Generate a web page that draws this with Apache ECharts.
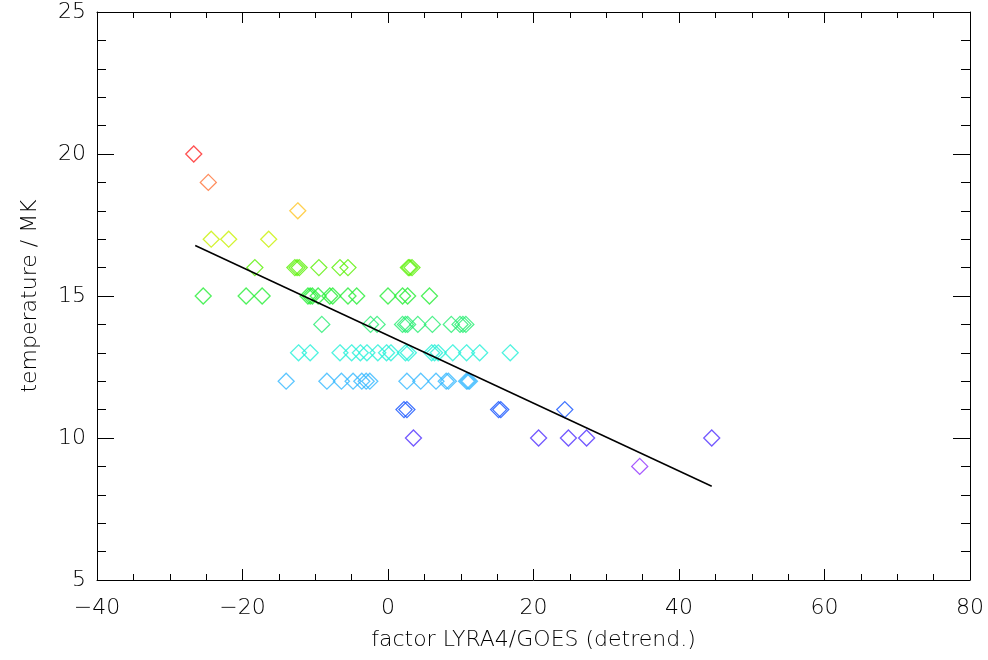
<!DOCTYPE html>
<html>
<head>
<meta charset="utf-8">
<script src="https://cdn.jsdelivr.net/npm/echarts@6/dist/echarts.min.js"></script>
<style>
  html, body { margin: 0; padding: 0; background: #fff; }
  #chart { width: 988px; height: 660px; }
</style>
</head>
<body>
<div id="chart"></div>
<script>
// temperature levels (MK) and the detrended LYRA4/GOES factor of each flare at that level
var tempLevels = [20, 19, 18, 17, 16, 15, 14, 13, 12, 11, 10, 9];
var factorRows = [
  [-26.7],
  [-24.7],
  [-12.4],
  [-24.3, -21.9, -16.4],
  [-18.3, -12.8, -12.5, -12.2, -9.5, -6.6, -5.5, 2.8, 3.0, 3.3],
  [-25.4, -19.5, -17.3, -11.0, -10.7, -10.4, -9.6, -8.0, -7.6, -5.5, -4.3, 0.0, 2.0, 2.7, 5.7],
  [-9.1, -2.4, -1.5, 2.0, 2.4, 2.7, 4.1, 6.1, 8.7, 9.9, 10.3, 10.7],
  [-12.3, -10.7, -6.6, -5.0, -3.8, -2.9, -1.4, -0.2, 0.4, 2.4, 2.8, 6.0, 6.4, 6.9, 8.9, 10.8, 12.6, 16.8],
  [-14.0, -8.4, -6.4, -4.8, -3.6, -3.0, -2.5, 2.6, 4.5, 6.6, 8.0, 8.3, 10.8, 11.0, 11.2],
  [2.2, 2.6, 15.2, 15.5, 24.3],
  [3.5, 20.7, 24.8, 27.3, 44.5],
  [34.6]
];
// linear fit end points
var fitFactor = [-26.5, 44.5];
var fitTemp = [16.78, 8.3];

// rainbow colours per level
var levelColors = ['#ff2424', '#ff7034', '#ffc424', '#c8f000', '#58f000', '#24ee34',
  '#24ee70', '#24f0d8', '#34b8ff', '#1050ff', '#5030ff', '#9030ff'];

var font = '"DejaVu Sans", sans-serif';

var points = [];
tempLevels.forEach(function (t, i) {
  factorRows[i].forEach(function (f) {
    points.push({
      value: [f, t],
      itemStyle: { color: 'rgba(0,0,0,0)', borderColor: levelColors[i], borderWidth: 1.3 }
    });
  });
});

var fitLine = fitFactor.map(function (f, i) { return [f, fitTemp[i]]; });

var chart = echarts.init(document.getElementById('chart'));

var baseX = {
  type: 'value', min: -40, max: 80, interval: 20,
  axisLine: { show: true, onZero: false, lineStyle: { color: '#000', width: 1 } },
  axisTick: { show: true, inside: true, length: 11, lineStyle: { color: '#000' } },
  minorTick: { show: true, splitNumber: 4, length: 6, lineStyle: { color: '#000' } },
  splitLine: { show: false }
};
var baseY = {
  type: 'value', min: 5, max: 25, interval: 5,
  axisLine: { show: true, onZero: false, lineStyle: { color: '#000', width: 1 } },
  axisTick: { show: true, inside: true, length: 17, lineStyle: { color: '#000' } },
  minorTick: { show: true, splitNumber: 5, length: 9, lineStyle: { color: '#000' } },
  splitLine: { show: false }
};

var textStyle = { color: '#000', fontSize: 22, fontFamily: font, fontWeight: 200 };

var option = {
  backgroundColor: '#fff',
  animation: false,
  grid: { left: 97, right: 18, top: 12, bottom: 80 },
  xAxis: [
    Object.assign({}, baseX, {
      position: 'bottom',
      name: 'factor LYRA4/GOES (detrend.)',
      nameLocation: 'middle', nameGap: 49,
      nameTextStyle: textStyle,
      axisLabel: Object.assign({ margin: 17,
        formatter: function (v) { return String(v).replace('-', '\u2212'); } }, textStyle)
    }),
    Object.assign({}, baseX, { position: 'top', axisLabel: { show: false } })
  ],
  yAxis: [
    Object.assign({}, baseY, {
      position: 'left',
      name: 'temperature / MK',
      nameLocation: 'middle', nameGap: 56,
      nameTextStyle: textStyle,
      axisLabel: Object.assign({ margin: 11 }, textStyle)
    }),
    Object.assign({}, baseY, { position: 'right', axisLabel: { show: false } })
  ],
  series: [
    {
      type: 'scatter',
      symbol: 'diamond',
      symbolSize: 16,
      data: points,
      z: 2
    },
    {
      type: 'line',
      data: fitLine,
      symbol: 'none',
      lineStyle: { color: '#000', width: 1.5 },
      z: 3
    }
  ]
};

chart.setOption(option);
</script>
</body>
</html>
